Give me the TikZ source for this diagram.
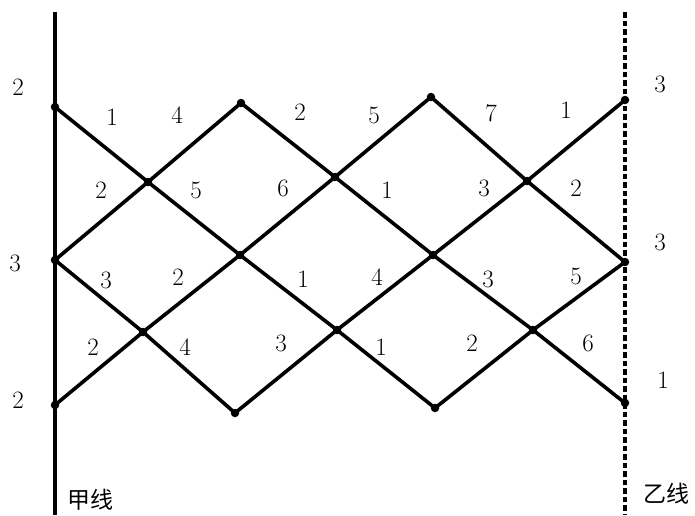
\documentclass[tikz,border=0pt]{standalone}
\usepackage{fontspec}
\newfontfamily\cjk{Noto Sans CJK SC}
\begin{document}
\begin{tikzpicture}[x=1pt, y=-1pt,
  seg/.style={line width=3.6pt, line cap=round, line join=round},
  dot/.style={circle, fill, inner sep=0pt, minimum size=8.5pt},
  num/.style={font=\fontsize{25}{29}\selectfont, inner sep=0pt},
  cjklabel/.style={font=\cjk\fontsize{23}{27}\selectfont, inner sep=0pt}
]
\useasboundingbox (0,0) rectangle (695,515);

% the two lines
\coordinate (jiaT) at (55,12);
\coordinate (jiaB) at (55,515);
\coordinate (yiT) at (625,12);
\coordinate (yiB) at (625,515);
\draw[line width=3.3pt] (jiaT) -- (jiaB);
\draw[line width=3.3pt, dash pattern=on 5.5pt off 3pt] (yiT) -- (yiB);

% points
\foreach \n/\x/\y in {L1/55/107, L2/55/260, L3/55/405,
                      R1/625/100, R2/625/262, R3/625/403,
                      T1/241/103, T2/431/97, B1/235/413, B2/435/408,
                      C1/148/182, C2/335/177, C3/527/181,
                      M1/240/255, M2/433/255,
                      D1/143/332, D2/337/330, D3/533/330}
  \node[dot] (\n) at (\x,\y) {};

% paths
\draw[seg] (L1.center) -- (C1.center) -- (M1.center) -- (D2.center) -- (B2.center);
\draw[seg] (L2.center) -- (C1.center) -- (T1.center) -- (C2.center) -- (M2.center) -- (D3.center) -- (R3.center);
\draw[seg] (L2.center) -- (D1.center) -- (B1.center) -- (D2.center) -- (M2.center) -- (C3.center) -- (R1.center);
\draw[seg] (L3.center) -- (D1.center) -- (M1.center) -- (C2.center) -- (T2.center) -- (C3.center) -- (R2.center);
\draw[seg] (R2.center) -- (D3.center) -- (B2.center);

% numbers
\foreach \n/\x/\y/\t in {a1/18/87/2, a2/15/263/3, a3/18/400/2,
                         b1/660/84/3, b2/660/242/3, b3/663/380/1,
                         r11/112/117/1, r12/177/115/4, r13/300/112/2, r14/374/115/5, r15/491/113/7, r16/566/110/1,
                         r21/101/190/2, r22/196/190/5, r23/283/188/6, r24/387/190/1, r25/484/188/3, r26/576/188/2,
                         r31/106/280/3, r32/178/277/2, r33/303/279/1, r34/377/277/4, r35/488/279/3, r36/576/276/5,
                         r41/93/347/2, r42/185/347/4, r43/281/343/3, r44/381/347/1, r45/472/343/2, r46/588/343/6}
  \node[num] (\n) at (\x,\y) {\t};

\node[cjklabel] (jia) at (90,500) {甲线};
\node[cjklabel] (yi) at (666,494) {乙线};
\end{tikzpicture}
\end{document}
